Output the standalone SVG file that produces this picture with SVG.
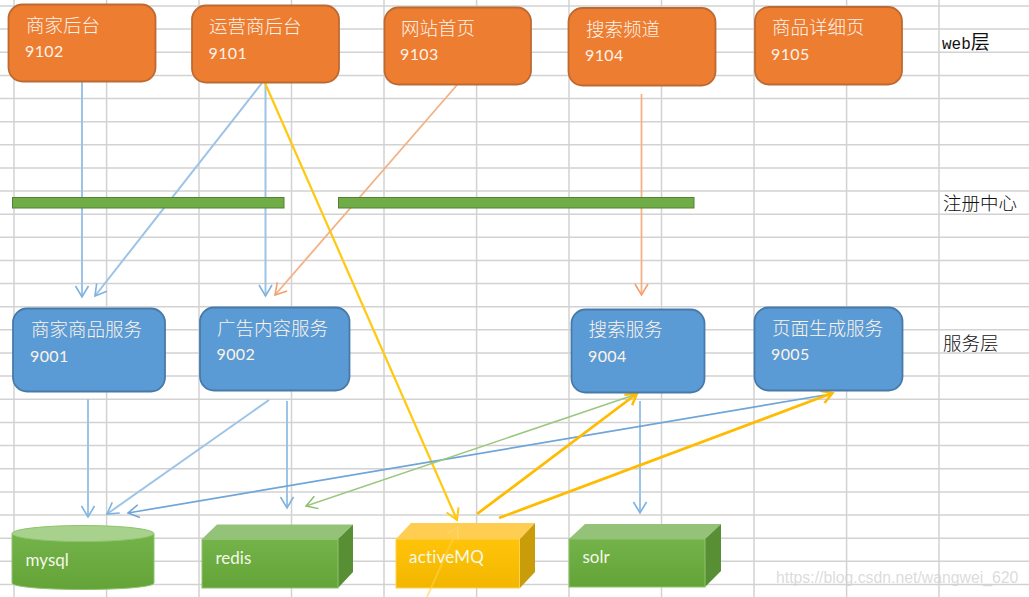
<svg xmlns="http://www.w3.org/2000/svg" width="1029" height="597" viewBox="0 0 1029 597">
<style>
.grid line{stroke:#d2d2d2;stroke-width:1.5}
.web rect{fill:#ed7d31;stroke:#bd6a32;stroke-width:1.8}
.svc rect{fill:#5b9bd5;stroke:#487aa8;stroke-width:1.8}
.bar{fill:#70ad47;stroke:#548235;stroke-width:1}
text{font-family:"Noto Sans CJK SC","Noto Sans",sans-serif}
.t{fill:#fdf3ea;font-size:18.5px;font-weight:300}
.n{fill:#fdf3ea;font-family:Lato,"Open Sans",sans-serif;font-size:16px;letter-spacing:.4px}
.d{fill:#f3f8e8;font-family:Lato,"Open Sans",sans-serif;font-size:17px}
.l{fill:#111;font-size:18.5px;font-weight:300}
.m{fill:#111;font-family:"Liberation Mono",monospace;font-size:16px}
.c line{fill:none}
.b1{stroke:#9dc3e6;stroke-width:2;marker-end:url(#ab)}
.b2{stroke:#6fa5d8;stroke-width:1.7;marker-end:url(#ab2)}
.o{stroke:#f4b183;stroke-width:1.8;marker-end:url(#ao)}
.g{stroke:#9cc77f;stroke-width:1.5;marker-end:url(#ag)}
.y{stroke:#ffc90e;stroke-width:2.2;marker-end:url(#ay)}
.y2{stroke:#ffbb00;stroke-width:2.8;marker-end:url(#ay2)}
</style>
<defs>
<marker id="ab" markerUnits="userSpaceOnUse" markerWidth="20" markerHeight="20" refX="14" refY="10" orient="auto"><path d="M3 3.500L14 10L3 16.500" fill="none" stroke="#7fb2e0" stroke-width="1.6"/></marker>
<marker id="ab2" markerUnits="userSpaceOnUse" markerWidth="20" markerHeight="20" refX="14" refY="10" orient="auto"><path d="M3 3.500L14 10L3 16.500" fill="none" stroke="#6fa5d8" stroke-width="1.6"/></marker>
<marker id="ao" markerUnits="userSpaceOnUse" markerWidth="20" markerHeight="20" refX="14" refY="10" orient="auto"><path d="M3 3.500L14 10L3 16.500" fill="none" stroke="#f4a06c" stroke-width="1.6"/></marker>
<marker id="ag" markerUnits="userSpaceOnUse" markerWidth="20" markerHeight="20" refX="14" refY="10" orient="auto"><path d="M3 3.500L14 10L3 16.500" fill="none" stroke="#8cbd6c" stroke-width="1.5"/></marker>
<marker id="ay" markerUnits="userSpaceOnUse" markerWidth="20" markerHeight="20" refX="14" refY="10" orient="auto"><path d="M3 3.500L14 10L3 16.500" fill="none" stroke="#ffc90e" stroke-width="2"/></marker>
<marker id="ay2" markerUnits="userSpaceOnUse" markerWidth="20" markerHeight="20" refX="14" refY="10" orient="auto"><path d="M3 3.500L14 10L3 16.500" fill="none" stroke="#ffbb00" stroke-width="2.4"/></marker>
<linearGradient id="gf" x1="0" y1="0" x2="0" y2="1"><stop offset="0" stop-color="#73b34a"/><stop offset="1" stop-color="#63a337"/></linearGradient>
<linearGradient id="yf" x1="0" y1="0" x2="0" y2="1"><stop offset="0" stop-color="#ffc40a"/><stop offset="1" stop-color="#f2b600"/></linearGradient>
</defs>

<g class="grid">
<line x1="0" y1="6" x2="1029" y2="6"/><line x1="0" y1="29.100" x2="1029" y2="29.100"/><line x1="0" y1="52.300" x2="1029" y2="52.300"/><line x1="0" y1="75.400" x2="1029" y2="75.400"/><line x1="0" y1="98.500" x2="1029" y2="98.500"/><line x1="0" y1="121.700" x2="1029" y2="121.700"/><line x1="0" y1="144.800" x2="1029" y2="144.800"/><line x1="0" y1="167.900" x2="1029" y2="167.900"/><line x1="0" y1="191" x2="1029" y2="191"/><line x1="0" y1="214.200" x2="1029" y2="214.200"/><line x1="0" y1="237.300" x2="1029" y2="237.300"/><line x1="0" y1="260.400" x2="1029" y2="260.400"/><line x1="0" y1="283.600" x2="1029" y2="283.600"/><line x1="0" y1="306.700" x2="1029" y2="306.700"/><line x1="0" y1="329.800" x2="1029" y2="329.800"/><line x1="0" y1="353" x2="1029" y2="353"/><line x1="0" y1="376.100" x2="1029" y2="376.100"/><line x1="0" y1="399.300" x2="1029" y2="399.300"/><line x1="0" y1="422.400" x2="1029" y2="422.400"/><line x1="0" y1="445.600" x2="1029" y2="445.600"/><line x1="0" y1="468.700" x2="1029" y2="468.700"/><line x1="0" y1="491.900" x2="1029" y2="491.900"/><line x1="0" y1="515" x2="1029" y2="515"/><line x1="0" y1="538.200" x2="1029" y2="538.200"/><line x1="0" y1="561.300" x2="1029" y2="561.300"/><line x1="0" y1="584.500" x2="1029" y2="584.500"/>
<line x1="14" y1="0" x2="14" y2="597"/><line x1="106.600" y1="0" x2="106.600" y2="597"/><line x1="199" y1="0" x2="199" y2="597"/><line x1="291.500" y1="0" x2="291.500" y2="597"/><line x1="384" y1="0" x2="384" y2="597"/><line x1="476.600" y1="0" x2="476.600" y2="597"/><line x1="569" y1="0" x2="569" y2="597"/><line x1="661.500" y1="0" x2="661.500" y2="597"/><line x1="754" y1="0" x2="754" y2="597"/><line x1="846.600" y1="0" x2="846.600" y2="597"/><line x1="939" y1="0" x2="939" y2="597"/>
</g>

<g id="connectors" class="c">
<line class="b1" x1="82" y1="82" x2="82" y2="297"/>
<line class="b1" x1="262" y1="83" x2="95" y2="296"/>
<line class="b1" x1="265.500" y1="83" x2="265.500" y2="296"/>
<line class="y" x1="265" y1="83" x2="457" y2="520"/>
<line class="o" x1="457" y1="85" x2="275" y2="295"/>
<line class="o" x1="641.500" y1="94" x2="641.500" y2="295"/>
<line class="b1" x1="88" y1="399" x2="88" y2="517"/>
<line class="b1" x1="269" y1="400" x2="107" y2="514"/>
<line class="b1" x1="287" y1="401" x2="287" y2="508"/>
<line class="b1" x1="640" y1="401" x2="640" y2="513"/>
<line class="b2" x1="825" y1="395" x2="128" y2="513"/>
<line class="g" x1="637" y1="394" x2="306" y2="506"/>
<line class="y2" x1="477" y1="514" x2="637" y2="393.500"/>
<line class="y2" x1="499" y1="518" x2="832.500" y2="393"/>
</g>

<g id="registry-left"><rect class="bar" x="12.500" y="197.500" width="271.500" height="10.500"/></g>
<g id="registry-right"><rect class="bar" x="338.500" y="197.500" width="355.500" height="10.500"/></g>

<g id="web-9102" class="web"><rect x="8.500" y="4.500" width="147" height="77" rx="14"/><text class="t" x="26" y="32">商家后台</text><text class="n" x="25" y="57">9102</text></g>
<g id="web-9101" class="web"><rect x="192" y="5.500" width="147" height="77" rx="14"/><text class="t" x="209" y="33">运营商后台</text><text class="n" x="208.500" y="59">9101</text></g>
<g id="web-9103" class="web"><rect x="384.500" y="7.500" width="146.500" height="77" rx="14"/><text class="t" x="401" y="35">网站首页</text><text class="n" x="400" y="60">9103</text></g>
<g id="web-9104" class="web"><rect x="568.500" y="8" width="147" height="77.500" rx="14"/><text class="t" x="586" y="36">搜索频道</text><text class="n" x="585" y="61">9104</text></g>
<g id="web-9105" class="web"><rect x="755" y="7" width="147" height="77.500" rx="14"/><text class="t" x="772" y="34">商品详细页</text><text class="n" x="771" y="60">9105</text></g>

<g id="svc-9001" class="svc"><rect x="13" y="308.500" width="152" height="83" rx="14"/><text class="t" x="31" y="336">商家商品服务</text><text class="n" x="30" y="362">9001</text></g>
<g id="svc-9002" class="svc"><rect x="200" y="307.500" width="149.500" height="83" rx="14"/><text class="t" x="217" y="335">广告内容服务</text><text class="n" x="216.500" y="360">9002</text></g>
<g id="svc-9004" class="svc"><rect x="571.500" y="309.500" width="133" height="83" rx="14"/><text class="t" x="588.500" y="336">搜索服务</text><text class="n" x="588" y="362">9004</text></g>
<g id="svc-9005" class="svc"><rect x="754.500" y="307.500" width="148" height="83" rx="14"/><text class="t" x="772" y="335">页面生成服务</text><text class="n" x="771" y="360">9005</text></g>

<g id="mysql">
<path d="M12 534V583C12 587 45 589.500 83 589.500S154 587 154 583V534Z" fill="url(#gf)" stroke="#8fc46c" stroke-width="1"/>
<ellipse cx="83" cy="533.500" rx="71" ry="8" fill="#a9d18e" stroke="#8fc46c" stroke-width="1"/>
<text class="d" x="25.500" y="566">mysql</text>
</g>
<g id="redis">
<path d="M202 539L217 524.500H353L338 539Z" fill="#94c278"/>
<path d="M338 539L353 524.500V572L338 588Z" fill="#588f35"/>
<rect x="202" y="539.500" width="136" height="48.500" fill="url(#gf)" stroke="#8fc46c" stroke-width="1"/>
<text class="d" x="215.500" y="564">redis</text>
</g>
<g id="activeMQ">
<path d="M396 539L411 523H535L520 539Z" fill="#ffcd52"/>
<path d="M520 539L535 523V572L520 588Z" fill="#c99c0a"/>
<rect x="396" y="539" width="123.500" height="49" fill="url(#yf)" stroke="#ffd24d" stroke-width="1"/>
<line x1="427" y1="597" x2="457" y2="530" stroke="#ffd24d" stroke-width="2" stroke-opacity=".55"/>
<path d="M447 534L457.500 527L458 540" fill="none" stroke="#ffd978" stroke-width="1.500" stroke-opacity=".7"/>
<text class="d" x="409" y="563" letter-spacing=".2">activeMQ</text>
</g>
<g id="solr">
<path d="M569 539L585 524H721L705 539Z" fill="#94c278"/>
<path d="M705 539L721 524V571L705 587Z" fill="#588f35"/>
<rect x="569" y="539" width="136" height="48" fill="url(#gf)" stroke="#8fc46c" stroke-width="1"/>
<text class="d" x="582.500" y="563">solr</text>
</g>

<g id="labels">
<text class="m" x="942" y="49">web<tspan font-family="Noto Sans CJK SC" font-size="19">层</tspan></text>
<text class="l" x="943" y="210">注册中心</text>
<text class="l" x="943" y="350">服务层</text>
<text x="776" y="583" font-size="15.800" fill="#cfcfcf" fill-opacity=".75" style="font-family:'Liberation Sans',sans-serif">https://blog.csdn.net/wangwei_620</text>
</g>
</svg>
